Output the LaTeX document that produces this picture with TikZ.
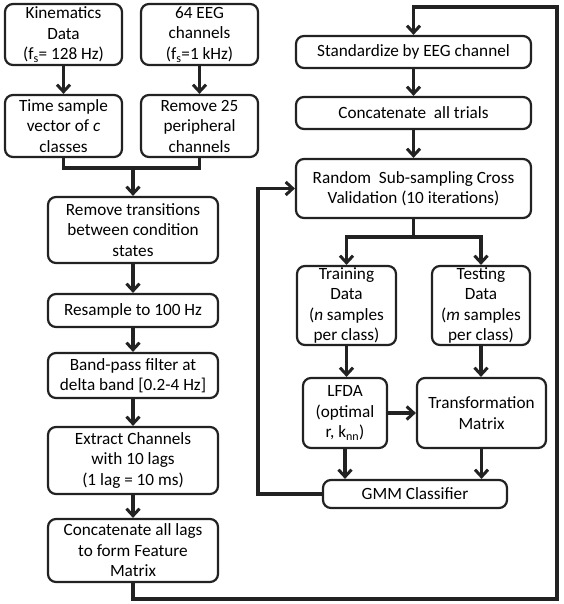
\documentclass[tikz,border=0pt]{standalone}
\usepackage{fontspec}
\setmainfont{Carlito}
\usetikzlibrary{arrows.meta}
\definecolor{ink}{HTML}{222222}
\begin{document}
\begin{tikzpicture}[x=1pt,y=-1pt,
  box/.style={draw=ink, line width=2.2pt, rounded corners=8pt, align=center,
    font=\fontsize{17.2}{20.5}\selectfont, inner sep=0pt, text=black},
  conn/.style={draw=ink, line width=3.2pt},
  arr/.style={conn, -{Straight Barb[length=7pt,width=13pt,line width=3pt]}}]
\useasboundingbox (0,0) rectangle (563,604);
% left column
\node[box, minimum width=117pt, minimum height=61pt] (kin) at (63.5,34.5) {Kinematics\\Data\\(f\textsubscript{s}= 128 Hz)};
\node[box, minimum width=117pt, minimum height=61pt] (eeg) at (199.5,34.5) {64 EEG\\channels\\(f\textsubscript{s}=1 kHz)};
\node[box, minimum width=117pt, minimum height=62pt] (time) at (63.5,126) {Time sample\\vector of \textit{c}\\classes};
\node[box, minimum width=117pt, minimum height=62pt] (rem) at (199.5,126) {Remove 25\\peripheral\\channels};
\node[box, minimum width=170pt, minimum height=66pt] (remtr) at (133,230) {Remove transitions\\between condition\\states};
\node[box, minimum width=170pt, minimum height=33pt] (resamp) at (133,310.5) {Resample to 100 Hz};
\node[box, minimum width=170pt, minimum height=45pt] (band) at (133,375.5) {Band-pass filter at\\delta band [0.2-4 Hz]};
\node[box, minimum width=170pt, minimum height=67pt] (extr) at (133,460.5) {Extract Channels\\with 10 lags\\(1 lag = 10 ms)};
\node[box, minimum width=170pt, minimum height=63pt] (concl) at (133,550.5) {Concatenate all lags\\to form Feature\\Matrix};
% right column
\node[box, minimum width=235pt, minimum height=32pt] (std) at (413.5,52) {Standardize by EEG channel};
\node[box, minimum width=235pt, minimum height=32pt] (cat) at (413.5,113) {Concatenate\ \ all trials};
\node[box, minimum width=235pt, minimum height=59pt] (rand) at (413.5,188.5) {Random\ \ Sub-sampling Cross\\Validation (10 iterations)};
\node[box, minimum width=99pt, minimum height=79pt] (train) at (346.5,305.5) {Training\\Data\\(\textit{n} samples\\per class)};
\node[box, minimum width=98pt, minimum height=79pt] (test) at (481,305.5) {Testing\\Data\\(\textit{m} samples\\per class)};
\node[box, minimum width=84pt, minimum height=70pt] (lfda) at (345,413) {LFDA\\(optimal\\r, k\textsubscript{nn})};
\node[box, minimum width=129pt, minimum height=70pt] (trans) at (481.5,413) {Transformation\\Matrix};
\node[box, minimum width=184pt, minimum height=28pt] (gmm) at (415,494) {GMM Classifier};
% junctions
\coordinate (j1) at (133,168);
\coordinate (c1) at (557,599);
\coordinate (c2) at (557,7);
\coordinate (j2) at (413.5,237);
\coordinate (c3) at (258,494);
% connectors
\draw[arr] (kin) -- (time);
\draw[arr] (eeg) -- (rem);
\draw[conn] (time.south) |- (j1);
\draw[conn] (rem.south) |- (j1);
\draw[arr] (j1) -- (remtr.north);
\draw[arr] (remtr) -- (resamp);
\draw[arr] (resamp) -- (band);
\draw[arr] (band) -- (extr);
\draw[arr] (extr) -- (concl);
\draw[arr] (concl.south) |- (c1) -- (c2) -| (std.north);
\draw[arr] (std) -- (cat);
\draw[arr] (cat) -- (rand);
\draw[conn] (rand.south) -- (j2);
\draw[arr] (j2) -| (train.north);
\draw[arr] (j2) -| (test.north);
\draw[arr] (train.south) -- (train.south |- lfda.north);
\draw[arr] (test.south) -- (test.south |- trans.north);
\draw[arr] (lfda.east) -- (lfda.east -| trans.west);
\draw[arr] (lfda.south) -- (lfda.south |- gmm.north);
\draw[arr] (trans.south) -- (trans.south |- gmm.north);
\draw[arr] (gmm.west) -- (c3) |- (rand.west);
\end{tikzpicture}
\end{document}
